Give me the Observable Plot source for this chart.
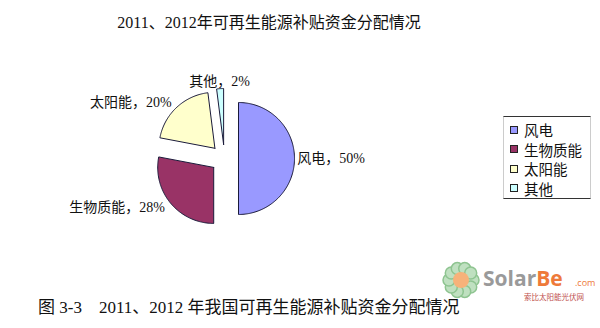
<!DOCTYPE html>
<html><head><meta charset="utf-8">
<script src="https://cdn.jsdelivr.net/npm/d3@7"></script>
<script src="https://cdn.jsdelivr.net/npm/@observablehq/plot@0.6"></script>
<style>
body{margin:0;background:#fff;}
#wrap{position:relative;width:600px;height:328px;overflow:hidden;font-family:"Liberation Serif","Noto Sans CJK SC",serif;color:#111;}
#title{position:absolute;top:9px;left:0;width:538px;text-align:center;font-size:16px;}
#caption{position:absolute;top:293px;left:38px;font-size:17px;white-space:pre;}
#legend{position:absolute;left:503px;top:116px;width:88px;height:83px;border-top:1.5px solid #333;border-bottom:1.5px solid #333;border-left:1px solid #ccc;border-right:1px solid #ccc;box-sizing:border-box;padding-top:3px;}
.li{height:19.5px;display:flex;align-items:center;font-size:14.5px;}
.sw{width:6px;height:6px;border:1px solid #222;margin-left:6px;margin-right:6px;}
#chart{position:absolute;left:0;top:0;}
#wm{position:absolute;left:440px;top:260px;width:160px;height:45px;}
</style></head>
<body><div id="wrap">
<div id="chart"></div>
<div id="title">2011、2012年可再生能源补贴资金分配情况</div>
<div id="legend"></div>
<div id="caption">图 3-3　2011、2012 年我国可再生能源补贴资金分配情况</div>
<div id="wm"></div>
</div>
<script>
const categories = ["风电", "生物质能", "太阳能", "其他"];
const shares = [50, 28, 20, 2];
const colors = ["#9999FF", "#993366", "#FFFFCC", "#CCFFFF"];

const total = d3.sum(shares);
const explode = 0.25, labelDist = 1.38;
let acc = 0;
const slices = categories.map((c, i) => {
  const a0 = acc / total * 2 * Math.PI;
  acc += shares[i];
  const a1 = acc / total * 2 * Math.PI;
  const mid = (a0 + a1) / 2;
  const ox = explode * Math.sin(mid), oy = explode * Math.cos(mid);
  const pts = [{x: ox, y: oy}];
  const n = Math.max(4, Math.ceil((a1 - a0) / 0.02));
  for (let k = 0; k <= n; k++) {
    const a = a0 + (a1 - a0) * k / n;
    pts.push({x: ox + Math.sin(a), y: oy + Math.cos(a)});
  }
  pts.push({x: ox, y: oy});
  const s = Math.sin(mid);
  return {cat: c, share: shares[i], color: colors[i], pts, mid,
    lx: (s > 0.9 ? 1.3 : labelDist) * Math.sin(mid), ly: labelDist * Math.cos(mid),
    anchor: s > 0.3 ? "start" : s < -0.3 ? "end" : "middle"};
});

const R = 56, cx = 224, cy = 158, W = 600, H = 328;
const labelFont = "Liberation Serif, Noto Sans CJK SC, serif";
const labelMark = anchor => Plot.text(slices.filter(d => d.anchor === anchor), {
  x: "lx", y: "ly", text: d => `${d.cat}，${d.share}%`, textAnchor: anchor,
  fontSize: 14, fontFamily: labelFont, fill: "#111"});
const chart = Plot.plot({
  width: W, height: H, margin: 0,
  x: {domain: [-cx / R, (W - cx) / R], axis: null},
  y: {domain: [-(H - cy) / R, cy / R], axis: null},
  style: {background: "transparent"},
  marks: [
    ...slices.map(s => Plot.line(s.pts, {x: "x", y: "y", fill: s.color, stroke: "#1a1a3a", strokeWidth: 1, curve: "linear"})),
    labelMark("start"), labelMark("end"), labelMark("middle")
  ]
});
document.getElementById("chart").appendChild(chart);

const lg = document.getElementById("legend");
categories.forEach((c, i) => {
  const d = document.createElement("div"); d.className = "li";
  d.innerHTML = `<span class="sw" style="background:${colors[i]}"></span><span>${c}</span>`;
  lg.appendChild(d);
});

// watermark
const wm = document.getElementById("wm");
let petals = "";
for (let k = 0; k < 10; k++) {
  const a = k / 10 * 2 * Math.PI;
  petals += `<circle cx="${21 + 12 * Math.cos(a)}" cy="${20 + 12 * Math.sin(a)}" r="6" fill="#bfe0c0" stroke="#8ec490" stroke-width="1.5"/>`;
}
wm.innerHTML = `<svg width="160" height="45">${petals}<circle cx="21" cy="20" r="8" fill="#f7b27a"/>
<text x="43" y="26" font-family="Open Sans, sans-serif" font-weight="bold" font-size="21" fill="#9a9a9a">Solar<tspan fill="#ee7a3a">Be</tspan></text>
<text x="135" y="26" font-family="Open Sans, sans-serif" font-size="9" fill="#ee7a3a">.com</text>
<text x="84" y="40" font-family="Noto Sans CJK SC" font-size="7.5" fill="#c0504d">索比太阳能光伏网</text></svg>`;
</script>
</body></html>
